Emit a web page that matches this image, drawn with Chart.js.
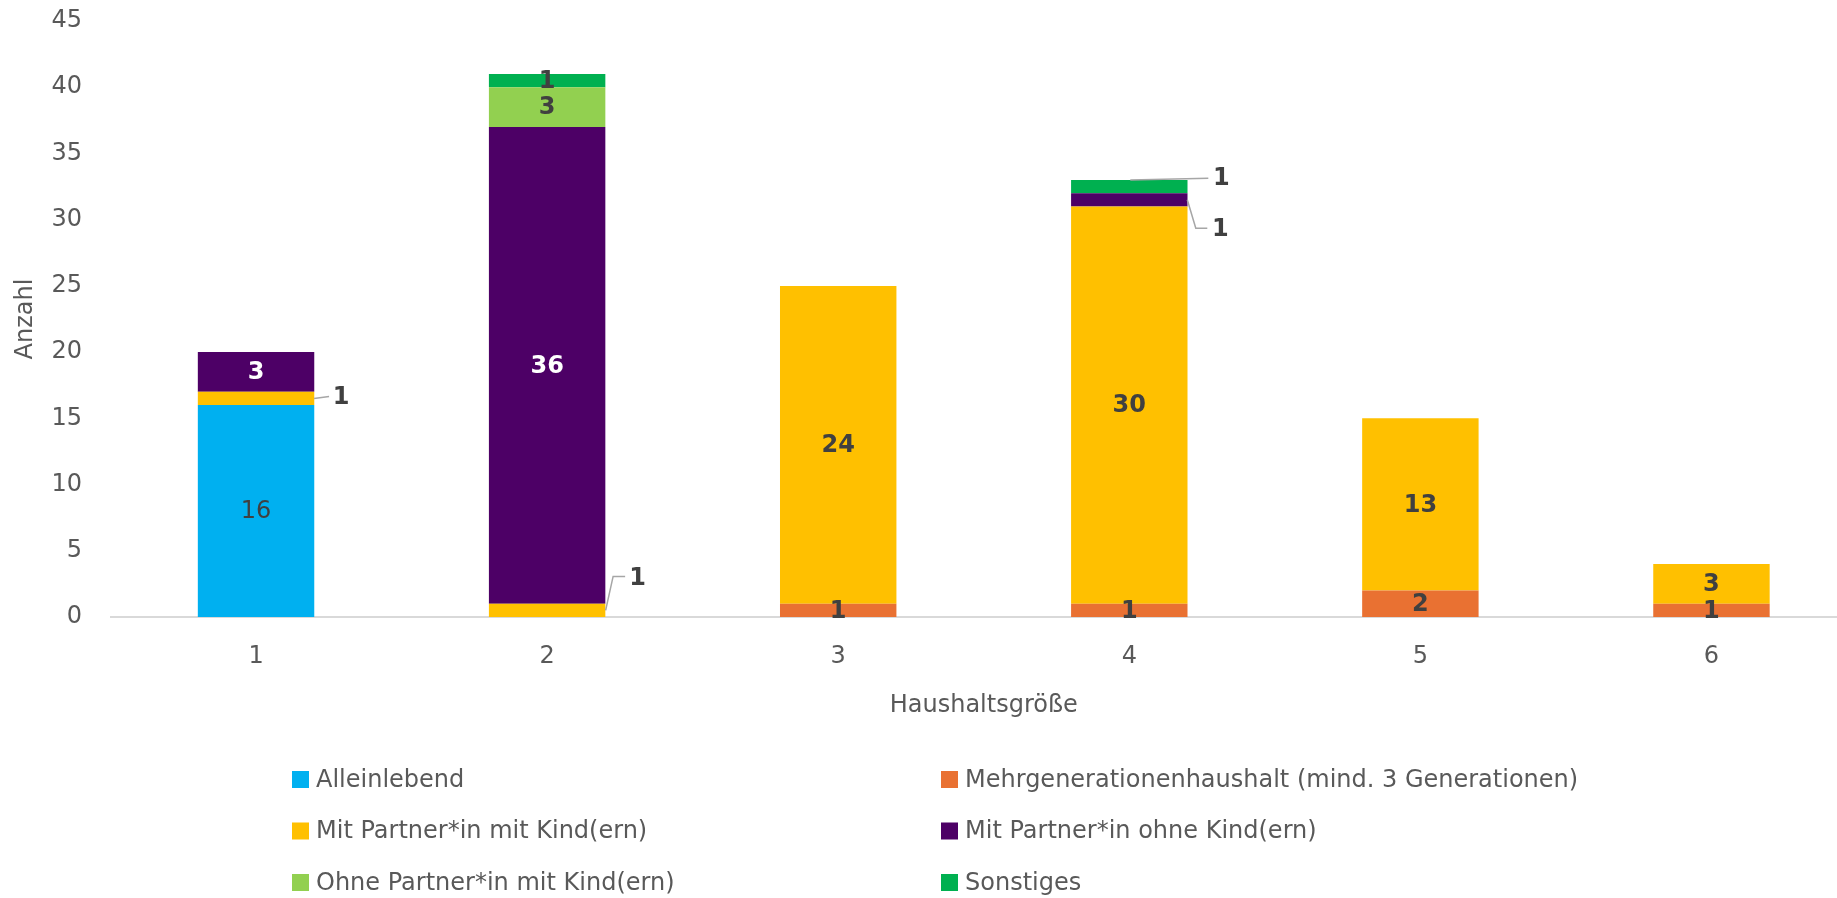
<!DOCTYPE html>
<html>
<head>
<meta charset="utf-8">
<script src="https://cdn.jsdelivr.net/npm/chart.js@4.4.1/dist/chart.umd.min.js"></script>
<style>
html, body { margin: 0; padding: 0; background: #ffffff; overflow: hidden; }
#wrap { position: relative; width: 1857px; height: 898px; }
</style>
</head>
<body>
<div id="wrap"><canvas id="chart" width="1857" height="898"></canvas></div>
<script>
// ---- data ----
const categories = ['1', '2', '3', '4', '5', '6'];
const seriesNames = [
  'Alleinlebend',
  'Mehrgenerationenhaushalt (mind. 3 Generationen)',
  'Mit Partner*in mit Kind(ern)',
  'Mit Partner*in ohne Kind(ern)',
  'Ohne Partner*in mit Kind(ern)',
  'Sonstiges'
];
const alleinlebend       = [16, null, null, null, null, null];
const mehrgenerationen   = [null, null, 1, 1, 2, 1];
const mitPartnerMitKind  = [1, 1, 24, 30, 13, 3];
const mitPartnerOhneKind = [3, 36, null, 1, null, null];
const ohnePartnerMitKind = [null, 3, null, null, null, null];
const sonstiges          = [null, 1, null, 1, null, null];
const yAxisMin = 0, yAxisMax = 45, yAxisStep = 5;
const xAxisTitle = 'Haushaltsgröße';
const yAxisTitle = 'Anzahl';

// ---- styles ----
const FONT = '"DejaVu Sans", Inter, sans-serif';
const AXIS_TEXT = '#595959';
const DARK = '#404040';
const colors = ['#00B0F0', '#E97132', '#FFC000', '#4D0066', '#92D050', '#00B050'];
const labelStyles = [
  { color: DARK, weight: 'normal' },
  { color: DARK, weight: 'bold' },
  { color: DARK, weight: 'bold' },
  { color: '#FFFFFF', weight: 'bold' },
  { color: DARK, weight: 'bold' },
  { color: DARK, weight: 'bold' }
];

const seriesData = [alleinlebend, mehrgenerationen, mitPartnerMitKind, mitPartnerOhneKind, ohnePartnerMitKind, sonstiges];

const segLabels = {
  id: 'segLabels',
  afterDatasetsDraw(chart, args, opts) {
    const ctx = chart.ctx;
    chart.data.datasets.forEach((ds, di) => {
      const meta = chart.getDatasetMeta(di);
      meta.data.forEach((bar, i) => {
        const v = ds.data[i];
        if (v === null || v === undefined || v === 0) return;
        const cy = (bar.y + bar.base) / 2;
        const st = opts.styles[di];
        const call = opts.callouts.find(c => c.ds === di && c.i === i);
        ctx.save();
        ctx.textAlign = 'center';
        ctx.textBaseline = 'middle';
        ctx.font = (st.weight === 'bold' ? '700 ' : '400 ') + opts.size + 'px ' + FONT;
        if (call) {
          ctx.strokeStyle = opts.leaderColor;
          ctx.lineWidth = 1.5;
          ctx.beginPath();
          call.path.forEach((p, k) => {
            const px = bar.x + p[0], py = cy + p[1];
            if (k === 0) ctx.moveTo(px, py); else ctx.lineTo(px, py);
          });
          ctx.stroke();
          ctx.fillStyle = DARK;
          ctx.font = '700 ' + opts.size + 'px ' + FONT;
          ctx.fillText(String(v), bar.x + call.text[0], cy + call.text[1]);
        } else {
          ctx.fillStyle = st.color;
          ctx.fillText(String(v), bar.x, cy + 1);
        }
        ctx.restore();
      });
    });
  }
};

const gridLegend = {
  id: 'gridLegend',
  afterDraw(chart, args, opts) {
    const ctx = chart.ctx;
    ctx.save();
    ctx.font = '400 ' + opts.size + 'px ' + FONT;
    ctx.textBaseline = 'middle';
    ctx.textAlign = 'left';
    chart.data.datasets.forEach((ds, di) => {
      const col = di % 2, row = Math.floor(di / 2);
      const x = opts.cols[col], y = opts.rows[row];
      ctx.fillStyle = ds.backgroundColor;
      ctx.fillRect(x, y - opts.box / 2, opts.box, opts.box);
      ctx.fillStyle = AXIS_TEXT;
      ctx.fillText(ds.label, x + opts.box + opts.gap, y + 1);
    });
    ctx.restore();
  }
};

const datasets = seriesNames.map((name, k) => ({
  label: name,
  data: seriesData[k],
  backgroundColor: colors[k],
  borderWidth: 0,
  barPercentage: 0.4,
  categoryPercentage: 1.0
}));

new Chart(document.getElementById('chart'), {
  type: 'bar',
  data: { labels: categories, datasets: datasets },
  options: {
    responsive: false,
    animation: false,
    layout: { padding: { top: 21, left: 0, right: 0, bottom: 177.6 } },
    plugins: {
      legend: { display: false },
      tooltip: { enabled: false },
      segLabels: {
        size: 24,
        leaderColor: '#A6A6A6',
        styles: labelStyles,
        callouts: [
          { ds: 2, i: 0, path: [[58, 0], [73, -2]], text: [85, -1] },
          { ds: 2, i: 1, path: [[58.5, 0], [66, -34], [78, -34]], text: [90.5, -32] },
          { ds: 5, i: 3, path: [[1, -6.6], [79, -8.4]], text: [92, -7.4] },
          { ds: 3, i: 3, path: [[58, 0], [66.5, 28.5], [78, 28.5]], text: [91, 30] }
        ]
      },
      gridLegend: {
        size: 24,
        box: 17,
        gap: 7,
        cols: [292, 941],
        rows: [779.5, 831, 882.5]
      }
    },
    scales: {
      x: {
        stacked: true,
        grid: { display: false, drawTicks: false, tickLength: 0 },
        border: { display: true, color: '#D9D9D9', width: 2 },
        ticks: { color: AXIS_TEXT, font: { family: FONT, size: 24 }, padding: 25.6 },
        title: { display: true, text: xAxisTitle, color: AXIS_TEXT, font: { family: FONT, size: 24 }, padding: { top: 0, bottom: 0 } },
        afterFit(scale) { scale.height = 103.4; scale.paddingLeft = 0; scale.paddingRight = 0; }
      },
      y: {
        stacked: true,
        min: yAxisMin,
        max: yAxisMax,
        grid: { display: false, drawTicks: false, tickLength: 0 },
        border: { display: false },
        ticks: { stepSize: yAxisStep, color: AXIS_TEXT, font: { family: FONT, size: 24 }, padding: 28.5 },
        title: { display: true, text: yAxisTitle, color: AXIS_TEXT, font: { family: FONT, size: 24 }, padding: { top: 11, bottom: 0 } },
        afterFit(scale) { scale.width = 110.5; scale.paddingTop = 0; scale.paddingBottom = 0; }
      }
    }
  },
  plugins: [segLabels, gridLegend]
});
</script>
</body>
</html>
